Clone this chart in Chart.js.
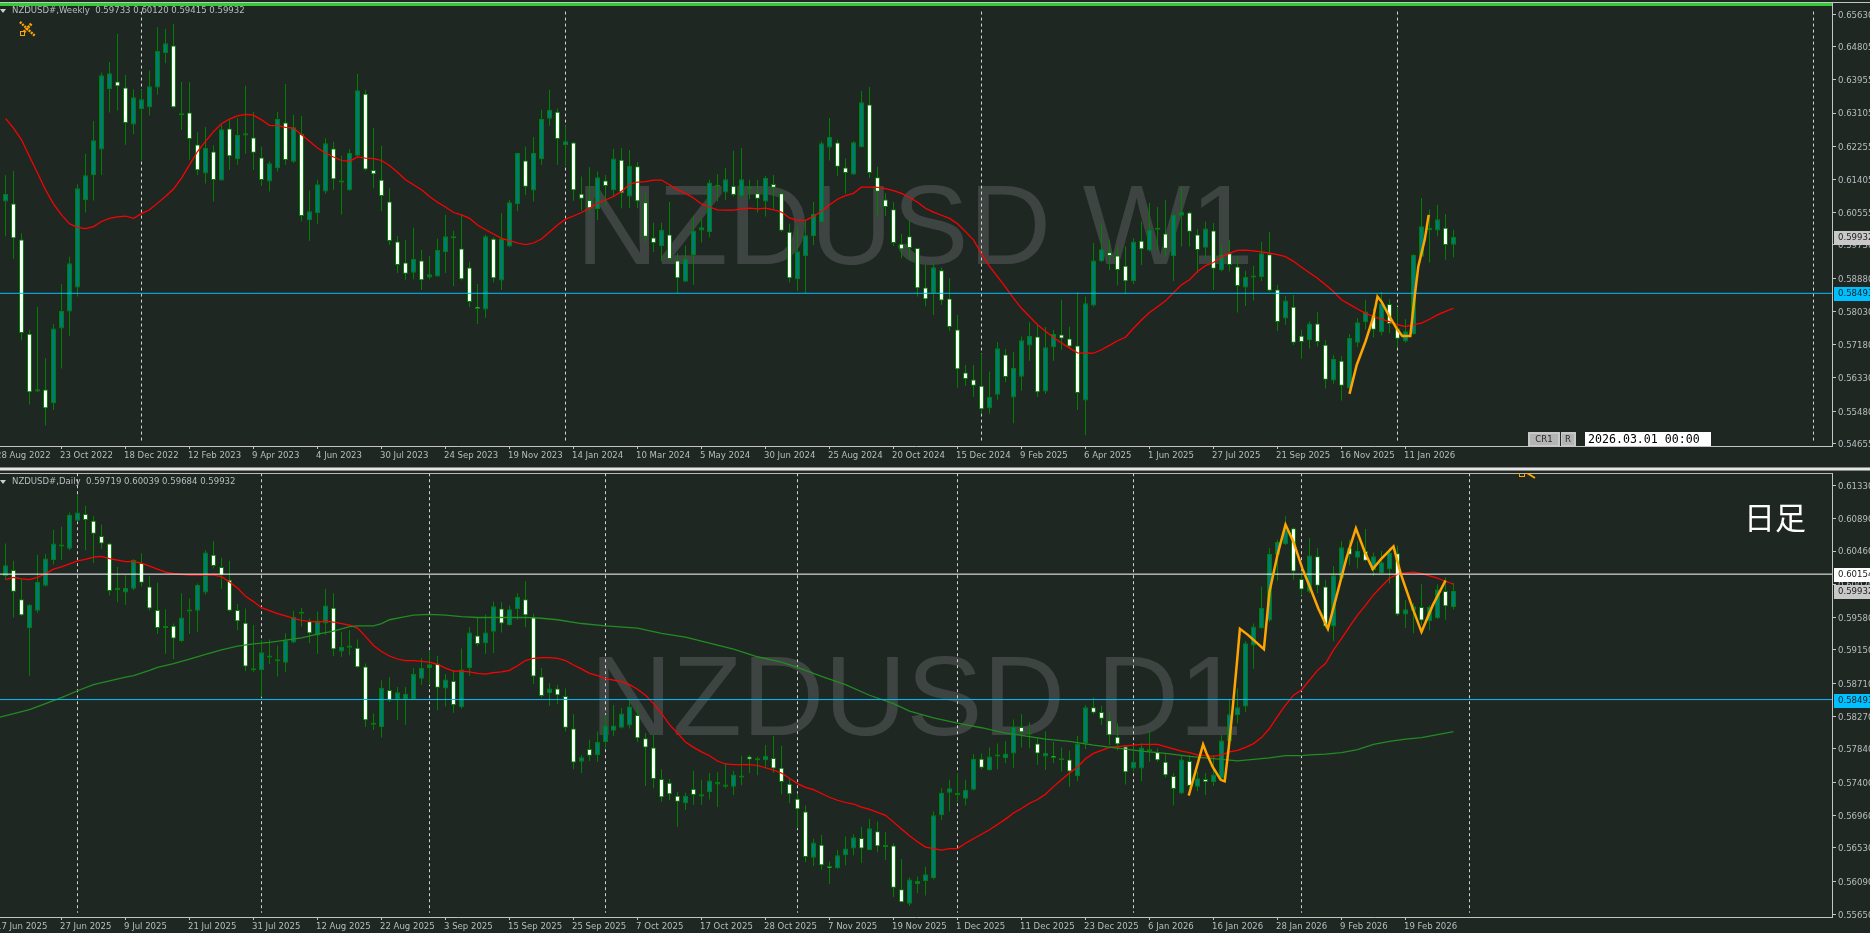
<!DOCTYPE html>
<html><head><meta charset="utf-8">
<script src="https://cdn.jsdelivr.net/npm/chart.js@4"></script>
<style>
html,body{margin:0;padding:0;background:#1f2723;width:1870px;height:933px;overflow:hidden}
canvas{position:absolute;left:0}
.rule{position:absolute;left:0}
</style></head><body>
<div class="rule" style="top:2px;width:1870px;height:1px;background:#c4c4c4"></div>
<div class="rule" style="top:467px;width:1870px;height:1px;background:#8a8a8a"></div>
<div class="rule" style="top:468px;width:1870px;height:2px;background:#e6e6e6"></div>
<div class="rule" style="top:470px;width:1870px;height:1px;background:#8a8a8a"></div>
<div class="rule" style="top:473px;width:1832px;height:1px;background:#b8b8b8"></div>
<canvas id="w" width="1870" height="467" style="top:0"></canvas>
<canvas id="d" width="1870" height="460" style="top:473px"></canvas>
<script>
// ---------- WEEKLY ----------
const weeklyDirection=("UDDDUDUUUU"+"UUUUDDUUUU"+"UDUDDUDUDU"+"UDDUUDUDUU"+"UDUUUDDDDD"+"DUDUUUDDDD"+"UDUUUDUUUD"+"UDDDUDUDUD"+"DDUDDUUUUD"+"UDUUDUDDDU"+"UUUUDDUUDD"+"DDDDDDUDDD"+"DDDUUDUUUD"+"UUDDDUUUDD"+"DUDUUDUUDD"+"UDUDDUUUDD"+"UDDUDDUDUU"+"UDUDDUUUUU"+"DU").split("");
const weeklyHigh=[.6151,.6162,.6003,.5756,.5815,.5683,.5771,.5873,.5943,.6128,
.6206,.6290,.6414,.6441,.6513,.6408,.6371,.6370,.6419,.6530,
.6526,.6539,.6390,.6389,.6261,.6275,.6228,.6280,.6293,.6297,
.6380,.6314,.6225,.6188,.6314,.6385,.6306,.6303,.6112,.6140,
.6246,.6237,.6201,.6218,.6410,.6370,.6273,.6227,.6118,.5996,
.5986,.6017,.5960,.5945,.5989,.6050,.6009,.6050,.5930,.5873,
.5999,.5993,.6054,.6088,.6209,.6225,.6249,.6319,.6370,.6322,
.6278,.6237,.6148,.6172,.6161,.6152,.6219,.6221,.6216,.6185,
.6105,.6030,.6030,.6083,.5952,.5971,.6047,.6041,.6140,.6154,
.6170,.6214,.6221,.6140,.6139,.6150,.6152,.6114,.6027,.6020,
.6037,.6083,.6238,.6298,.6242,.6194,.6238,.6367,.6377,.6173,
.6105,.6082,.6001,.6037,.5965,.5922,.5926,.5915,.5888,.5794,
.5666,.5666,.5694,.5649,.5725,.5707,.5700,.5739,.5775,.5770,
.5763,.5756,.5833,.5764,.5852,.5841,.5978,.6029,.5986,.5967,
.5969,.5990,.6033,.6080,.6070,.6088,.6054,.6121,.6059,.6014,
.6033,.6029,.5973,.5986,.5942,.5907,.5920,.5981,.6007,.5871,
.5843,.5845,.5756,.5778,.5801,.5730,.5692,.5689,.5745,.5786,
.5833,.5811,.5853,.5834,.5814,.5783,.5950,.6093,.6063,.6076,
.6052,.6012];
const weeklyBodyTop=[.6103,.6079,.5987,.5746,.5604,.5603,.5759,.5804,.5926,.6118,
.6151,.6241,.6407,.6412,.6391,.6376,.6351,.6346,.6379,.6469,
.6489,.6483,.6308,.6312,.6230,.6221,.6212,.6269,.6271,.6254,
.6259,.6248,.6197,.6182,.6295,.6286,.6274,.6257,.6059,.6128,
.6233,.6220,.6136,.6208,.6369,.6360,.6165,.6140,.6084,.5982,
.5928,.5937,.5933,.5898,.5960,.5995,.5995,.5964,.5915,.5815,
.5995,.5989,.5988,.6082,.6208,.6189,.6208,.6295,.6318,.6314,
.6238,.6235,.6104,.6088,.6146,.6138,.6194,.6191,.6175,.6174,
.6082,.5992,.6011,.6000,.5933,.5938,.6010,.6018,.6133,.6125,
.6141,.6124,.6141,.6119,.6105,.6144,.6129,.6105,.6007,.5957,
.5998,.6052,.6233,.6249,.6235,.6171,.6236,.6338,.6332,.6146,
.6089,.6064,.5976,.5995,.5965,.5864,.5916,.5908,.5836,.5757,
.5647,.5629,.5613,.5584,.5709,.5693,.5658,.5729,.5740,.5739,
.5711,.5745,.5744,.5734,.5716,.5824,.5933,.5962,.5954,.5946,
.5920,.5982,.5984,.6012,.6013,.6002,.6050,.6057,.6056,.6000,
.6015,.6010,.5949,.5952,.5918,.5891,.5892,.5952,.5949,.5859,
.5831,.5815,.5741,.5772,.5772,.5718,.5681,.5677,.5735,.5775,
.5803,.5794,.5824,.5822,.5760,.5752,.5947,.6021,.6016,.6039,
.6017,.59932];
const weeklyBodyBottom=[.6084,.5990,.5748,.5596,.5598,.5555,.5568,.5759,.5803,.5864,
.6088,.6151,.6217,.6371,.6379,.6285,.6281,.6320,.6325,.6376,
.6464,.6325,.6305,.6244,.6164,.6156,.6139,.6138,.6200,.6192,
.6253,.6209,.6139,.6135,.6169,.6190,.6186,.6047,.6036,.6054,
.6110,.6141,.6133,.6113,.6201,.6166,.6154,.6098,.5983,.5922,
.5899,.5902,.5883,.5890,.5892,.5954,.5990,.5885,.5827,.5809,
.5808,.5888,.5882,.5969,.6077,.6122,.6112,.6192,.6296,.6244,
.6228,.6113,.6091,.6067,.6065,.6124,.6113,.6105,.6097,.6085,
.5994,.5978,.5970,.5937,.5888,.5879,.5947,.6010,.6006,.6122,
.6107,.6101,.6098,.6117,.6091,.6084,.6119,.6009,.5888,.5885,
.5944,.5995,.6031,.6222,.6173,.6157,.6153,.6223,.6157,.6109,
.6070,.5978,.5962,.5965,.5862,.5834,.5850,.5831,.5763,.5655,
.5630,.5613,.5553,.5555,.5590,.5635,.5583,.5636,.5716,.5596,
.5598,.5711,.5734,.5713,.5594,.5575,.5818,.5931,.5945,.5909,
.5880,.5880,.5962,.5959,.6012,.5963,.5944,.6048,.6007,.5960,
.5966,.5912,.5908,.5922,.5868,.5864,.5890,.5891,.5856,.5776,
.5785,.5723,.5725,.5729,.5725,.5628,.5626,.5613,.5607,.5723,
.5775,.5756,.5750,.5771,.5733,.5726,.5745,.5943,.6011,.6010,
.5973,.59733];
const weeklyLow=[.5995,.5938,.5729,.5565,.5596,.5511,.5551,.5657,.5741,.5841,
.6056,.6087,.6152,.6312,.6317,.6229,.6256,.6189,.6304,.6357,
.6438,.6323,.6267,.6191,.6152,.6130,.6084,.6138,.6165,.6178,
.6206,.6165,.6124,.6110,.6161,.6178,.6182,.6033,.5984,.6027,
.6104,.6114,.6051,.6111,.6199,.6163,.6118,.6059,.5973,.5901,
.5884,.5885,.5858,.5885,.5892,.5901,.5868,.5882,.5814,.5771,
.5787,.5877,.5858,.5967,.6059,.6101,.6084,.6178,.6278,.6178,
.6174,.6086,.6061,.6054,.6037,.6073,.6097,.6067,.6067,.6067,
.5982,.5955,.5931,.5935,.5850,.5878,.5871,.5979,.5992,.6084,
.6088,.6097,.6095,.6090,.6056,.6046,.6065,.6006,.5877,.5856,
.5850,.5973,.6030,.6189,.6150,.6104,.6152,.6222,.6144,.6047,
.6047,.5971,.5939,.5935,.5841,.5816,.5794,.5820,.5753,.5608,
.5613,.5585,.5543,.5541,.5577,.5622,.5517,.5600,.5677,.5585,
.5592,.5677,.5705,.5709,.5551,.5486,.5815,.5929,.5909,.5869,
.5847,.5873,.5922,.5956,.5960,.5943,.5881,.5969,.5969,.5901,
.5939,.5858,.5905,.5905,.5800,.5817,.5831,.5881,.5853,.5753,
.5769,.5717,.5682,.5708,.5713,.5606,.5618,.5575,.5604,.5711,
.5756,.5736,.5742,.5747,.5711,.5723,.5743,.5942,.5928,.5995,
.5935,.59415];
const weeklyRedMA=[.6297,.6272,.6242,.6199,.6157,.6114,.6078,.6050,.6027,.6018,
.6015,.6020,.6033,.6041,.6045,.6047,.6041,.6053,.6063,.6080,
.6097,.6116,.6144,.6178,.6212,.6238,.6263,.6283,.6295,.6303,
.6307,.6305,.6293,.6279,.6278,.6274,.6272,.6255,.6238,.6221,
.6208,.6198,.6189,.6187,.6198,.6195,.6194,.6189,.6176,.6159,
.6140,.6127,.6114,.6097,.6082,.6070,.6056,.6050,.6041,.6024,
.6012,.6001,.5990,.5984,.5978,.5974,.5978,.5988,.6006,.6024,
.6039,.6047,.6056,.6067,.6080,.6088,.6097,.6110,.6128,.6134,
.6135,.6139,.6139,.6127,.6114,.6105,.6093,.6078,.6070,.6063,
.6062,.6062,.6065,.6067,.6065,.6067,.6063,.6057,.6042,.6036,
.6036,.6046,.6059,.6076,.6090,.6099,.6105,.6121,.6121,.6120,
.6117,.6112,.6105,.6095,.6082,.6067,.6057,.6049,.6041,.6027,
.6007,.5986,.5950,.5918,.5892,.5865,.5837,.5811,.5790,.5769,
.5752,.5736,.5722,.5709,.5697,.5696,.5696,.5705,.5716,.5728,
.5737,.5760,.5781,.5800,.5815,.5830,.5851,.5871,.5884,.5905,
.5920,.5928,.5942,.5952,.5959,.5960,.5958,.5955,.5952,.5948,
.5943,.5931,.5916,.5902,.5888,.5871,.5854,.5833,.5821,.5809,
.5798,.5790,.5783,.5777,.5769,.5764,.5769,.5773,.5783,.5794,
.5803,.5811];
const weeklyZigzagIndex=[168,168.9,170,171,171.5,172,173,174,174.6,175.6,176.1,176.6,177.4,177.9];
const weeklyZigzagValue=[.5592,.5666,.5726,.5790,.5841,.5828,.5790,.5756,.5740,.5740,.5833,.5918,.5986,.6050];
const weeklySeparators=[17,70,122,174,226];
const weeklyPriceTicks=[.6563,.64805,.63955,.63105,.62255,.61405,.60555,.5973,.5888,.5803,.5718,.5633,.5548,.54655];
const weeklyDateLabels=["28 Aug 2022","23 Oct 2022","18 Dec 2022","12 Feb 2023","9 Apr 2023","4 Jun 2023","30 Jul 2023","24 Sep 2023","19 Nov 2023","14 Jan 2024","10 Mar 2024","5 May 2024","30 Jun 2024","25 Aug 2024","20 Oct 2024","15 Dec 2024","9 Feb 2025","6 Apr 2025","1 Jun 2025","27 Jul 2025","21 Sep 2025","16 Nov 2025","11 Jan 2026"];
const weeklyLevels=[.58493];

// ---------- DAILY ----------
const dailyDirection=("UDDUUUUUUU"+"DDDDUUUDDD"+"UDUUUUDDDD"+"DDUUDUUUDU"+"UDUUDDUUDU"+"UUUUDUDUUD"+"UUDUUDDDUD"+"DDUDUUUUUD"+"DDDDDUDUUU"+"UUUDUUDDDD"+"DUDDUUUDUD"+"UDDUUUUUUU"+"UUDUUUUDUD"+"UDUDUUDDDD"+"DUUUDDDUDU"+"DUUUUUUUUU"+"UDDUDDUUDU"+"DUUUDUUDUU"+"DU").split("");
const dailyHigh=[.6056,.6033,.6010,.5976,.6041,.6042,.6074,.6078,.6097,.6120,
.6106,.6092,.6081,.6057,.6025,.6014,.6035,.6043,.6013,.6004,
.5969,.5950,.5990,.5983,.6003,.6047,.6059,.6037,.6033,.5976,
.5970,.5948,.5928,.5929,.5921,.5937,.5967,.5971,.5957,.5966,
.5996,.5990,.5939,.5941,.5929,.5897,.5831,.5875,.5879,.5866,
.5866,.5891,.5904,.5914,.5907,.5883,.5888,.5917,.5945,.5958,
.5962,.5979,.5978,.5974,.5990,.6006,.5963,.5891,.5871,.5869,
.5864,.5830,.5776,.5796,.5807,.5829,.5842,.5838,.5851,.5841,
.5805,.5803,.5757,.5744,.5727,.5726,.5755,.5743,.5752,.5753,
.5765,.5755,.5775,.5776,.5774,.5789,.5801,.5788,.5745,.5725,
.5709,.5665,.5670,.5635,.5650,.5668,.5671,.5681,.5691,.5688,
.5674,.5659,.5638,.5614,.5615,.5628,.5701,.5732,.5743,.5752,
.5743,.5777,.5778,.5786,.5791,.5794,.5823,.5830,.5819,.5799,
.5807,.5793,.5786,.5782,.5801,.5842,.5852,.5841,.5832,.5818,
.5789,.5789,.5791,.5808,.5785,.5777,.5752,.5776,.5776,.5754,
.5752,.5776,.5802,.5849,.5864,.5927,.5950,.5999,.6050,.6061,
.6092,.6077,.6020,.6063,.6050,.6008,.6026,.6059,.6061,.6059,
.6075,.6044,.6046,.6050,.6053,.5981,.5977,.6002,.5974,.6002,
.6011,.60039];
const dailyBodyTop=[.6027,.6021,.5982,.5975,.6005,.6036,.6056,.6054,.6094,.6097,
.6095,.6086,.6066,.6056,.5997,.5997,.6034,.6030,.5999,.5968,
.5945,.5947,.5958,.5967,.6001,.6044,.6041,.6025,.6008,.5968,
.5951,.5890,.5912,.5907,.5902,.5928,.5959,.5964,.5953,.5954,
.5974,.5971,.5919,.5921,.5918,.5893,.5817,.5865,.5862,.5859,
.5857,.5883,.5891,.5896,.5897,.5876,.5874,.5889,.5938,.5934,
.5938,.5973,.5970,.5969,.5985,.5982,.5959,.5880,.5864,.5864,
.5854,.5811,.5773,.5784,.5793,.5815,.5815,.5831,.5840,.5829,
.5798,.5786,.5744,.5739,.5722,.5722,.5731,.5724,.5742,.5740,
.5737,.5750,.5748,.5774,.5770,.5775,.5772,.5759,.5738,.5718,
.5701,.5660,.5657,.5629,.5643,.5652,.5667,.5666,.5679,.5675,
.5655,.5656,.5598,.5611,.5609,.5618,.5696,.5726,.5732,.5726,
.5730,.5771,.5771,.5774,.5776,.5778,.5813,.5813,.5805,.5791,
.5779,.5775,.5771,.5770,.5791,.5839,.5839,.5833,.5822,.5800,
.5787,.5767,.5786,.5783,.5780,.5767,.5748,.5770,.5768,.5745,
.5744,.5750,.5795,.5830,.5839,.5924,.5946,.5971,.6042,.6058,
.6074,.6076,.6009,.6040,.6039,.5999,.6014,.6051,.6050,.6046,
.6046,.6039,.6031,.6044,.6043,.5969,.5973,.5972,.5972,.5995,
.5993,.59932];
const dailyBodyBottom=[.6013,.5992,.5961,.5944,.5967,.6000,.6034,.6052,.6049,.6086,
.6087,.6069,.6056,.5993,.5994,.5991,.5996,.6004,.5970,.5944,
.5944,.5930,.5927,.5966,.5967,.5991,.6026,.6014,.5967,.5953,
.5893,.5888,.5888,.5905,.5900,.5898,.5925,.5963,.5937,.5934,
.5950,.5916,.5913,.5918,.5892,.5822,.5816,.5813,.5848,.5850,
.5850,.5850,.5877,.5891,.5865,.5864,.5842,.5839,.5891,.5923,
.5924,.5939,.5950,.5948,.5969,.5961,.5880,.5854,.5858,.5855,
.5812,.5766,.5767,.5775,.5776,.5793,.5808,.5812,.5815,.5798,
.5786,.5744,.5720,.5724,.5714,.5712,.5723,.5721,.5727,.5737,
.5734,.5734,.5746,.5770,.5769,.5769,.5758,.5740,.5724,.5704,
.5641,.5640,.5630,.5626,.5626,.5643,.5652,.5652,.5650,.5655,
.5654,.5600,.5581,.5579,.5605,.5609,.5613,.5696,.5726,.5723,
.5718,.5730,.5759,.5756,.5774,.5772,.5778,.5806,.5803,.5778,
.5774,.5772,.5769,.5754,.5748,.5791,.5832,.5824,.5802,.5790,
.5753,.5758,.5758,.5781,.5769,.5749,.5731,.5725,.5735,.5734,
.5740,.5740,.5745,.5794,.5829,.5840,.5921,.5944,.5954,.6041,
.6055,.6019,.5995,.5992,.6000,.5946,.5946,.6010,.6041,.6037,
.6033,.6021,.6017,.6022,.5962,.5962,.5967,.5954,.5953,.5957,
.5973,.59719];
const dailyLow=[.6008,.5958,.5960,.5881,.5964,.5999,.6028,.6034,.6047,.6085,
.6047,.6030,.6049,.5987,.5978,.5975,.5994,.5999,.5967,.5936,
.5910,.5903,.5925,.5936,.5939,.5988,.6023,.5996,.5966,.5941,
.5887,.5886,.5853,.5896,.5880,.5886,.5924,.5946,.5924,.5910,
.5935,.5907,.5906,.5908,.5891,.5813,.5809,.5799,.5846,.5822,
.5816,.5849,.5869,.5869,.5835,.5840,.5832,.5837,.5881,.5920,
.5910,.5911,.5938,.5947,.5955,.5945,.5870,.5852,.5841,.5843,
.5807,.5757,.5752,.5768,.5767,.5785,.5801,.5811,.5811,.5793,
.5735,.5732,.5714,.5716,.5681,.5703,.5710,.5710,.5717,.5707,
.5732,.5723,.5736,.5752,.5749,.5758,.5752,.5724,.5712,.5679,
.5634,.5629,.5624,.5605,.5625,.5630,.5643,.5633,.5650,.5647,
.5637,.5588,.5581,.5576,.5593,.5590,.5611,.5690,.5701,.5714,
.5709,.5729,.5757,.5755,.5757,.5765,.5759,.5786,.5785,.5763,
.5756,.5765,.5754,.5734,.5741,.5784,.5830,.5816,.5789,.5782,
.5737,.5754,.5741,.5767,.5767,.5746,.5709,.5724,.5729,.5728,
.5723,.5735,.5743,.5793,.5818,.5833,.5890,.5943,.5952,.6007,
.6054,.6008,.5987,.5990,.5990,.5944,.5927,.6008,.6027,.6023,
.6032,.6013,.6016,.6003,.5960,.5944,.5937,.5948,.5941,.5956,
.5955,.59684];
const dailyRedMA=[.6008,.6011,.6009,.6008,.6011,.6016,.6022,.6025,.6029,.6033,
.6035,.6038,.6039,.6036,.6034,.6032,.6032,.6030,.6026,.6022,
.6018,.6016,.6015,.6014,.6014,.6014,.6014,.6012,.6005,.5997,
.5986,.5979,.5971,.5967,.5963,.5960,.5957,.5954,.5953,.5952,
.5953,.5952,.5950,.5948,.5944,.5933,.5921,.5913,.5907,.5903,
.5901,.5901,.5900,.5899,.5896,.5891,.5887,.5887,.5886,.5884,
.5883,.5885,.5886,.5888,.5894,.5901,.5904,.5905,.5905,.5904,
.5901,.5895,.5890,.5884,.5881,.5877,.5875,.5873,.5869,.5863,
.5855,.5844,.5831,.5816,.5805,.5793,.5786,.5780,.5775,.5768,
.5764,.5763,.5763,.5763,.5762,.5759,.5756,.5752,.5745,.5738,
.5733,.5730,.5725,.5720,.5716,.5713,.5711,.5707,.5704,.5700,
.5696,.5687,.5678,.5669,.5661,.5654,.5652,.5650,.5652,.5652,
.5659,.5665,.5671,.5677,.5684,.5691,.5699,.5705,.5712,.5717,
.5724,.5734,.5743,.5752,.5760,.5771,.5778,.5782,.5786,.5787,
.5788,.5789,.5790,.5790,.5790,.5787,.5784,.5781,.5779,.5776,
.5775,.5774,.5776,.5780,.5782,.5786,.5791,.5799,.5811,.5827,
.5842,.5855,.5862,.5875,.5888,.5897,.5915,.5930,.5946,.5961,
.5974,.5988,.5999,.6010,.6015,.6017,.6018,.6016,.6013,.6010,
.6006,.6002];
const dailyGreenMAIndex=[-.7,3,5,7,9,11,13,15,16,18,19,21,23,25,27,29,31,33,35,37,39,41,43,44,46,47,48,50,51,53,55,57,59,61,63,65,67,69,72,75,79,82,85,88,91,94,97,99,102,105,108,111,113,116,119,122,125,127,130,133,136,139,142,145,148,151,154,157,158,160,162,163,165,167,169,171,173,175,177,179,181];
const dailyGreenMAValue=[.5826,.5836,.5844,.5852,.5861,.5869,.5874,.5879,.5881,.5888,.5892,.5897,.5903,.5909,.5915,.5920,.5923,.5925,.5928,.5931,.5936,.5940,.5946,.5947,.5947,.5950,.5955,.5959,.5961,.5962,.5961,.5959,.5958,.5958,.5958,.5958,.5957,.5955,.5950,.5947,.5944,.5937,.5932,.5924,.5916,.5906,.5899,.5892,.5880,.5869,.5855,.5844,.5834,.5825,.5818,.5812,.5805,.5802,.5797,.5794,.5789,.5785,.5781,.5778,.5774,.5771,.5768,.5771,.5772,.5775,.5775,.5776,.5777,.5779,.5783,.5790,.5794,.5797,.5799,.5803,.5807];
const dailyZigzagIndex=[147.9,149.7,150.1,150.9,151.9,152.4,152.9,153.4,153.9,154.3,155.3,157.3,158,159,160,161,162.1,163.1,164.1,165.3,166.3,167.6,168.8,169.9,170.9,172,173.5,174.4,175.9,177,178.4,180];
const dailyZigzagValue=[.5722,.5790,.5779,.5760,.5743,.5741,.5785,.5838,.5895,.5943,.5935,.5916,.5992,.6041,.6081,.6058,.6023,.5997,.5970,.5943,.5983,.6036,.6076,.6045,.6022,.6036,.6052,.6016,.5970,.5939,.5974,.6007];
const dailySeparators=[9,32,53,75,99,119,141,162,183];
const dailyPriceTicks=[.6133,.6089,.6046,.6002,.5958,.5915,.5871,.5827,.5784,.574,.5696,.5653,.5609,.5565];
const dailyDateLabels=["17 Jun 2025","27 Jun 2025","9 Jul 2025","21 Jul 2025","31 Jul 2025","12 Aug 2025","22 Aug 2025","3 Sep 2025","15 Sep 2025","25 Sep 2025","7 Oct 2025","17 Oct 2025","28 Oct 2025","7 Nov 2025","19 Nov 2025","1 Dec 2025","11 Dec 2025","23 Dec 2025","6 Jan 2026","16 Jan 2026","28 Jan 2026","9 Feb 2026","19 Feb 2026"];
const dailyLevels=[.60154,.58493];

const dateTickIndex=[-1,7,15,23,31,39,47,55,63,71,79,87,95,103,111,119,127,135,143,151,159,167,175];
const currentPrice=.59932, supportLevel=.58493, whiteLevel=.60154;

// ---------- STYLE ----------
const UI='"DejaVu Sans Condensed","DejaVu Sans"', WM='"Liberation Sans"', TXT='#b8bcbe', AXIS='#c4c4c4';
const UP='#007b7b', DOWN='#ffffff', EDGE='#008000', WICK='#008000';
const RED='#ff0000', MA_GREEN='#228b22', ORANGE='#ffa500', SKY='#00bfff';
const X_MIN=-.6875, X_MAX=228.3125;

function seg(x0,y0,x1,y1,color,width,dash){
  return {type:'line',data:[{x:x0,y:y0},{x:x1,y:y1}],borderColor:color,borderWidth:width,borderDash:dash||[],pointRadius:0,tension:0,fill:false};
}
function pairs(xs,ys){return xs.map((x,i)=>({x,y:ys[i]}));}
function series(ys){return ys.map((y,i)=>({x:i,y}));}
function line(data,color,width){return {type:'line',data,borderColor:color,borderWidth:width,pointRadius:0,tension:0,fill:false};}

function build(id,p){
  const sets=[];
  if(p.zig) sets.push(line(pairs(p.zig[0],p.zig[1]),ORANGE,2.5));
  p.levels.forEach(l=>sets.push(seg(X_MIN,l[0],X_MAX,l[0],l[1],1)));
  if(p.topLine) sets.push(seg(X_MIN,p.topLine,X_MAX,p.topLine,'#32cd32',3));
  if(p.green) sets.push(line(pairs(p.green[0],p.green[1]),MA_GREEN,1.3));
  sets.push(line(series(p.red),RED,1.25));
  sets.push({type:'bar',data:p.dir.map((d,i)=>({x:i,y:[p.bot[i],p.top[i]]})),
    backgroundColor:p.dir.map(d=>d==='U'?UP:DOWN),borderColor:EDGE,borderWidth:1,borderSkipped:false,
    barThickness:5,minBarLength:2,grouped:false,inflateAmount:0});
  sets.push({type:'bar',data:p.dir.map((d,i)=>({x:i,y:[p.low[i],p.high[i]]})),
    backgroundColor:WICK,borderWidth:0,barThickness:1,grouped:false,inflateAmount:0});
  p.seps.forEach(k=>sets.push(seg(k,p.sepRange[0],k,p.sepRange[1],'#d4d4d4',1,[3,3])));

  const decor={id:'decor',
    beforeDatasetsDraw(c){
      const x=c.ctx; x.save(); x.fillStyle='#3e4442';
      x.font='114px '+WM; x.textBaseline='alphabetic'; x.textAlign='left';
      x.fillText(p.mark,p.markX,p.markY); x.restore();
    },
    afterDraw(c){
      const x=c.ctx; x.save();
      x.fillStyle='#d0d0d0'; x.beginPath();
      const hy=p.headY; x.moveTo(0,hy-2); x.lineTo(6,hy-2); x.lineTo(3,hy+2); x.closePath(); x.fill();
      x.font='9.5px '+UI; x.textBaseline='middle'; x.textAlign='left'; x.fillStyle=TXT;
      x.fillText(p.head,12,hy);
      const sy=c.scales.y;
      p.tags.forEach(t=>{
        const y=Math.round(sy.getPixelForValue(t[0]));
        x.fillStyle=t[1]; x.fillRect(1834,y-6,36,14);
        x.fillStyle=t[2]; x.font='9.5px '+UI;
        x.fillText(t[0].toFixed(5),1838,y+1);
      });
      if(p.after) p.after(x);
      x.restore();
    }};

  return new Chart(document.getElementById(id),{
    type:'bar',
    data:{datasets:sets},
    plugins:[decor],
    options:{
      responsive:false,animation:false,devicePixelRatio:1,events:[],
      parsing:true,
      layout:{padding:{top:p.padTop,left:0,right:0,bottom:0}},
      plugins:{legend:{display:false},tooltip:{enabled:false},title:{display:false}},
      scales:{
        x:{type:'linear',min:X_MIN,max:X_MAX,offset:false,bounds:'data',
          grid:{offset:false,drawOnChartArea:false,drawTicks:true,tickLength:3,color:AXIS},
          border:{display:true,color:AXIS},
          ticks:{autoSkip:false,maxRotation:0,minRotation:0,align:'start',padding:1,labelOffset:-1.5,color:TXT,font:{family:UI,size:9.5},
            callback:(v,i)=>p.dates[i]},
          afterBuildTicks:s=>{s.ticks=dateTickIndex.map(v=>({value:v}));},
          afterFit:s=>{s.height=p.xH;s.paddingLeft=0;s.paddingRight=0;}
        },
        y:{type:'linear',position:'right',min:p.yMin,max:p.yMax,bounds:'data',
          grid:{drawOnChartArea:false,drawTicks:true,tickLength:4,color:AXIS},
          border:{display:true,color:AXIS},
          ticks:{autoSkip:false,padding:2,labelOffset:1,color:TXT,font:{family:UI,size:9.5},callback:v=>v.toFixed(5)},
          afterBuildTicks:s=>{s.ticks=p.yTicks.map(v=>({value:v}));},
          afterFit:s=>{s.width=38;s.paddingTop=0;s.paddingBottom=0;}
        }
      }
    }
  });
}
function pencil(x,dx,dy){
  x.strokeStyle=ORANGE; x.lineWidth=2.5; x.setLineDash([2,1]); x.beginPath();
  x.moveTo(dx+20,dy+22); x.lineTo(dx+35,dy+36); x.stroke();
  x.lineWidth=3; x.beginPath();
  x.moveTo(dx+24,dy+32); x.lineTo(dx+32,dy+23); x.stroke();
  x.setLineDash([]);
  x.lineWidth=1; x.strokeRect(dx+20.5,dy+31.5,4,4);
}

build('w',{dir:weeklyDirection,high:weeklyHigh,top:weeklyBodyTop,bot:weeklyBodyBottom,low:weeklyLow,red:weeklyRedMA,
  zig:[weeklyZigzagIndex,weeklyZigzagValue],levels:[[weeklyLevels[0],SKY]],topLine:.65881,
  seps:weeklySeparators,sepRange:[.657,.5471],dates:weeklyDateLabels,yTicks:weeklyPriceTicks,
  yMin:.54587,yMax:.65919,padTop:3,xH:21,headY:11,
  head:'NZDUSD#,Weekly  0.59733 0.60120 0.59415 0.59932',mark:'NZDUSD W1',markX:576,markY:264,
  tags:[[currentPrice,'#c8c8c8','#222'],[supportLevel,SKY,'#102020']],
  after:x=>{
    pencil(x,0,0);
    x.fillStyle='#c8c8c8'; x.fillRect(1528,432,32,14); x.fillRect(1561,432,15,14);
    x.fillStyle='#b4b4b4'; x.fillRect(1530,434,28,11); x.fillRect(1562,434,12,11);
    x.fillStyle='#2a2a2a'; x.font='9.5px '+UI; x.textAlign='center'; x.textBaseline='middle';
    x.fillText('CR1',1544,440); x.fillText('R',1568,440);
    x.fillStyle='#ffffff'; x.fillRect(1585,432,126,14);
    x.fillStyle='#000'; x.font='11.6px "DejaVu Sans Mono"'; x.textAlign='left';
    x.fillText('2026.03.01 00:00',1588,440);
  }});

build('d',{dir:dailyDirection,high:dailyHigh,top:dailyBodyTop,bot:dailyBodyBottom,low:dailyLow,red:dailyRedMA,
  green:[dailyGreenMAIndex,dailyGreenMAValue],zig:[dailyZigzagIndex,dailyZigzagValue],
  levels:[[whiteLevel,'#ffffff'],[supportLevel,SKY]],
  seps:dailySeparators,sepRange:[.6149,.5567],dates:dailyDateLabels,yTicks:dailyPriceTicks,
  yMin:.55614,yMax:.61493,padTop:0,xH:16,headY:9,
  head:'NZDUSD#,Daily  0.59719 0.60039 0.59684 0.59932',mark:'NZDUSD D1',markX:590,markY:262,
  tags:[[whiteLevel,'#ffffff','#222'],[currentPrice,'#c8c8c8','#222'],[supportLevel,SKY,'#102020']],
  after:x=>{
    x.strokeStyle=ORANGE; x.lineWidth=1; x.strokeRect(1519.5,-2.5,5,6);
    x.lineWidth=2; x.beginPath(); x.moveTo(1527,0); x.lineTo(1535,5); x.stroke();
    x.fillStyle='#ffffff'; x.font='31px "Noto Sans CJK JP"'; x.textAlign='left'; x.textBaseline='middle';
    x.fillText('日足',1744,44);
  }});
</script>
</body></html>
